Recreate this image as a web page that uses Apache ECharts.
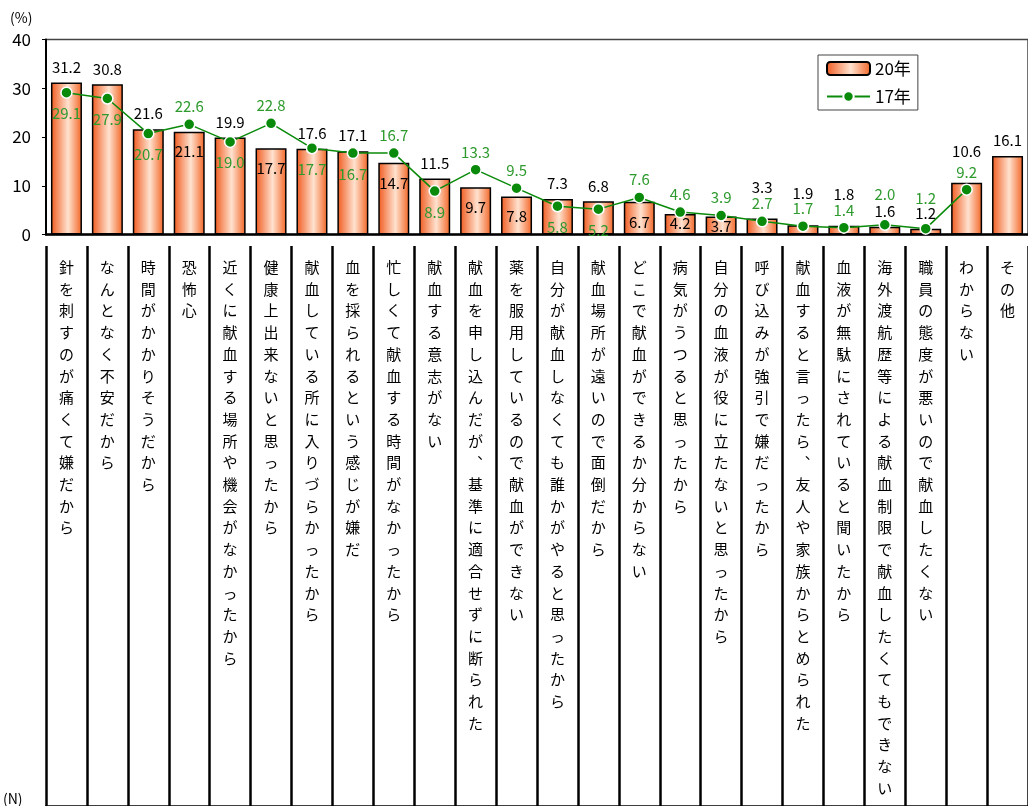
<!DOCTYPE html>
<html>
<head>
<meta charset="utf-8">
<script src="https://cdn.jsdelivr.net/npm/echarts@6/dist/echarts.min.js"></script>
<style>
  html, body { margin: 0; padding: 0; background: #fff; }
  #chart { width: 1028px; height: 806px; }
</style>
</head>
<body>
<div id="chart"></div>
<script>
// 献血しなかった理由 (%), 20年 vs 17年
const categories = [
  '針を刺すのが痛くて嫌だから',
  'なんとなく不安だから',
  '時間がかかりそうだから',
  '恐怖心',
  '近くに献血する場所や機会がなかったから',
  '健康上出来ないと思ったから',
  '献血している所に入りづらかったから',
  '血を採られるという感じが嫌だ',
  '忙しくて献血する時間がなかったから',
  '献血する意志がない',
  '献血を申し込んだが、基準に適合せずに断られた',
  '薬を服用しているので献血ができない',
  '自分が献血しなくても誰かがやると思ったから',
  '献血場所が遠いので面倒だから',
  'どこで献血ができるか分からない',
  '病気がうつると思ったから',
  '自分の血液が役に立たないと思ったから',
  '呼び込みが強引で嫌だったから',
  '献血すると言ったら、友人や家族からとめられた',
  '血液が無駄にされていると聞いたから',
  '海外渡航歴等による献血制限で献血したくてもできない',
  '職員の態度が悪いので献血したくない',
  'わからない',
  'その他'
]
const values20 = [31.2, 30.8, 21.6, 21.1, 19.9, 17.7, 17.6, 17.1, 14.7, 11.5, 9.7, 7.8,
  7.3, 6.8, 6.7, 4.2, 3.7, 3.3, 1.9, 1.8, 1.6, 1.2, 10.6, 16.1]
const values17 = [29.1, 27.9, 20.7, 22.6, 19.0, 22.8, 17.7, 16.7, 16.7, 8.9, 13.3, 9.5,
  5.8, 5.2, 7.6, 4.6, 3.9, 2.7, 1.7, 1.4, 2.0, 1.2, 9.2, null]
const yTicks = [0, 10, 20, 30, 40]

// label placement (styling only)
const barLabelInside = [3, 5, 8, 10, 11, 14, 15, 16]
const barLabelRaised = [17, 18, 19, 22]
const lineLabelBelow = [0, 1, 2, 4, 6, 7, 9, 12, 13]
const lineLabelRaised = [20, 21]

const FONT = '"Noto Sans CJK JP", "Noto Sans", sans-serif'
const GREEN = '#0A8A0A'
const LABEL_GREEN = '#2E9A2E'
const PX_PER_UNIT = 195 / 40

const barGradient = new echarts.graphic.LinearGradient(0, 0, 1, 0, [
  { offset: 0, color: '#F05A1E' },
  { offset: 0.55, color: '#FFE2CF' },
  { offset: 1, color: '#F26424' }
])

const barData = values20.map((v, i) => {
  let label = { position: 'top', distance: 8 }
  if (barLabelInside.includes(i)) {
    const h = v * PX_PER_UNIT
    label = { position: 'insideTop', distance: Math.max(2, Math.min(12.5, h - 20)) }
  } else if (barLabelRaised.includes(i)) {
    label = { position: 'top', distance: 24 }
  }
  return { value: v, label }
})

const lineData = values17.map((v, i) => {
  let label = { position: 'top', distance: 4 }
  if (lineLabelBelow.includes(i)) label = { position: 'bottom', distance: 7 }
  else if (lineLabelRaised.includes(i)) label = { position: 'top', distance: 17 }
  return { value: v, label }
})

const chart = echarts.init(document.getElementById('chart'))
chart.setOption({
  animation: false,
  textStyle: { fontFamily: FONT },
  graphic: [
    { type: 'text', left: 10, top: 11, style: { text: '(%)', fontSize: 14, fill: '#000', fontFamily: FONT } },
    { type: 'text', left: 3, top: 792, style: { text: '(N)', fontSize: 14, fill: '#000', fontFamily: FONT } }
  ],
  legend: {
    orient: 'vertical',
    left: 818,
    top: 55,
    padding: [5, 7, 5, 8],
    itemGap: 11,
    itemWidth: 43,
    itemHeight: 13,
    itemTextGap: 6,
    borderColor: '#444',
    borderWidth: 1,
    textStyle: { fontSize: 17, color: '#000', fontFamily: FONT, lineHeight: 17 },
    data: ['20年', '17年']
  },
  grid: [
    { left: 46, top: 39.5, width: 984, height: 195, show: true, borderColor: '#444', borderWidth: 1.5 },
    { left: 46, top: 246, width: 984, height: 620 }
  ],
  xAxis: [
    {
      type: 'category',
      gridIndex: 0,
      data: categories,
      axisLine: { lineStyle: { color: '#000', width: 2.5 } },
      axisTick: { show: false },
      axisLabel: {
        interval: 0,
        margin: 22,
        color: '#000',
        fontSize: 15,
        lineHeight: 21.7,
        verticalAlign: 'top',
        formatter: (s) => Array.from(s).map(c => (c === '、' ? '︑' : c)).join('\n')
      }
    },
    {
      type: 'category',
      gridIndex: 1,
      position: 'top',
      data: categories,
      axisLine: { lineStyle: { color: '#000', width: 2.5 } },
      axisTick: { show: false },
      axisLabel: { show: false, interval: 0 },
      splitLine: { show: true, interval: 0, lineStyle: { color: '#000', width: 2.5 } }
    }
  ],
  yAxis: [
    {
      type: 'value',
      gridIndex: 0,
      min: yTicks[0],
      max: yTicks[yTicks.length - 1],
      interval: 10,
      axisLine: { show: true, lineStyle: { color: '#000', width: 2 } },
      axisTick: { show: true, length: 4, lineStyle: { color: '#000' } },
      axisLabel: { color: '#000', fontSize: 17, margin: 15 },
      splitLine: { show: false }
    },
    {
      type: 'value',
      gridIndex: 1,
      show: false,
      axisLine: { show: true, lineStyle: { color: '#000', width: 2.5 } },
      splitLine: { show: false }
    }
  ],
  series: [
    {
      name: '20年',
      type: 'bar',
      xAxisIndex: 0,
      yAxisIndex: 0,
      barWidth: 31,
      data: barData,
      itemStyle: { color: barGradient, borderColor: '#000', borderWidth: 1.5 },
      label: { show: true, color: '#000', fontSize: 15, fontFamily: FONT, formatter: (p) => p.value.toFixed(1) },
      z: 2
    },
    {
      name: '17年',
      type: 'line',
      xAxisIndex: 0,
      yAxisIndex: 0,
      data: lineData,
      symbol: 'circle',
      symbolSize: 11,
      lineStyle: { color: GREEN, width: 1.5 },
      itemStyle: { color: GREEN, borderColor: '#fff', borderWidth: 1.5 },
      label: {
        show: true, color: LABEL_GREEN, fontSize: 15, fontFamily: FONT,
        formatter: (p) => (p.value == null ? '' : Number(p.value).toFixed(1))
      },
      z: 3
    }
  ]
})
</script>
</body>
</html>
